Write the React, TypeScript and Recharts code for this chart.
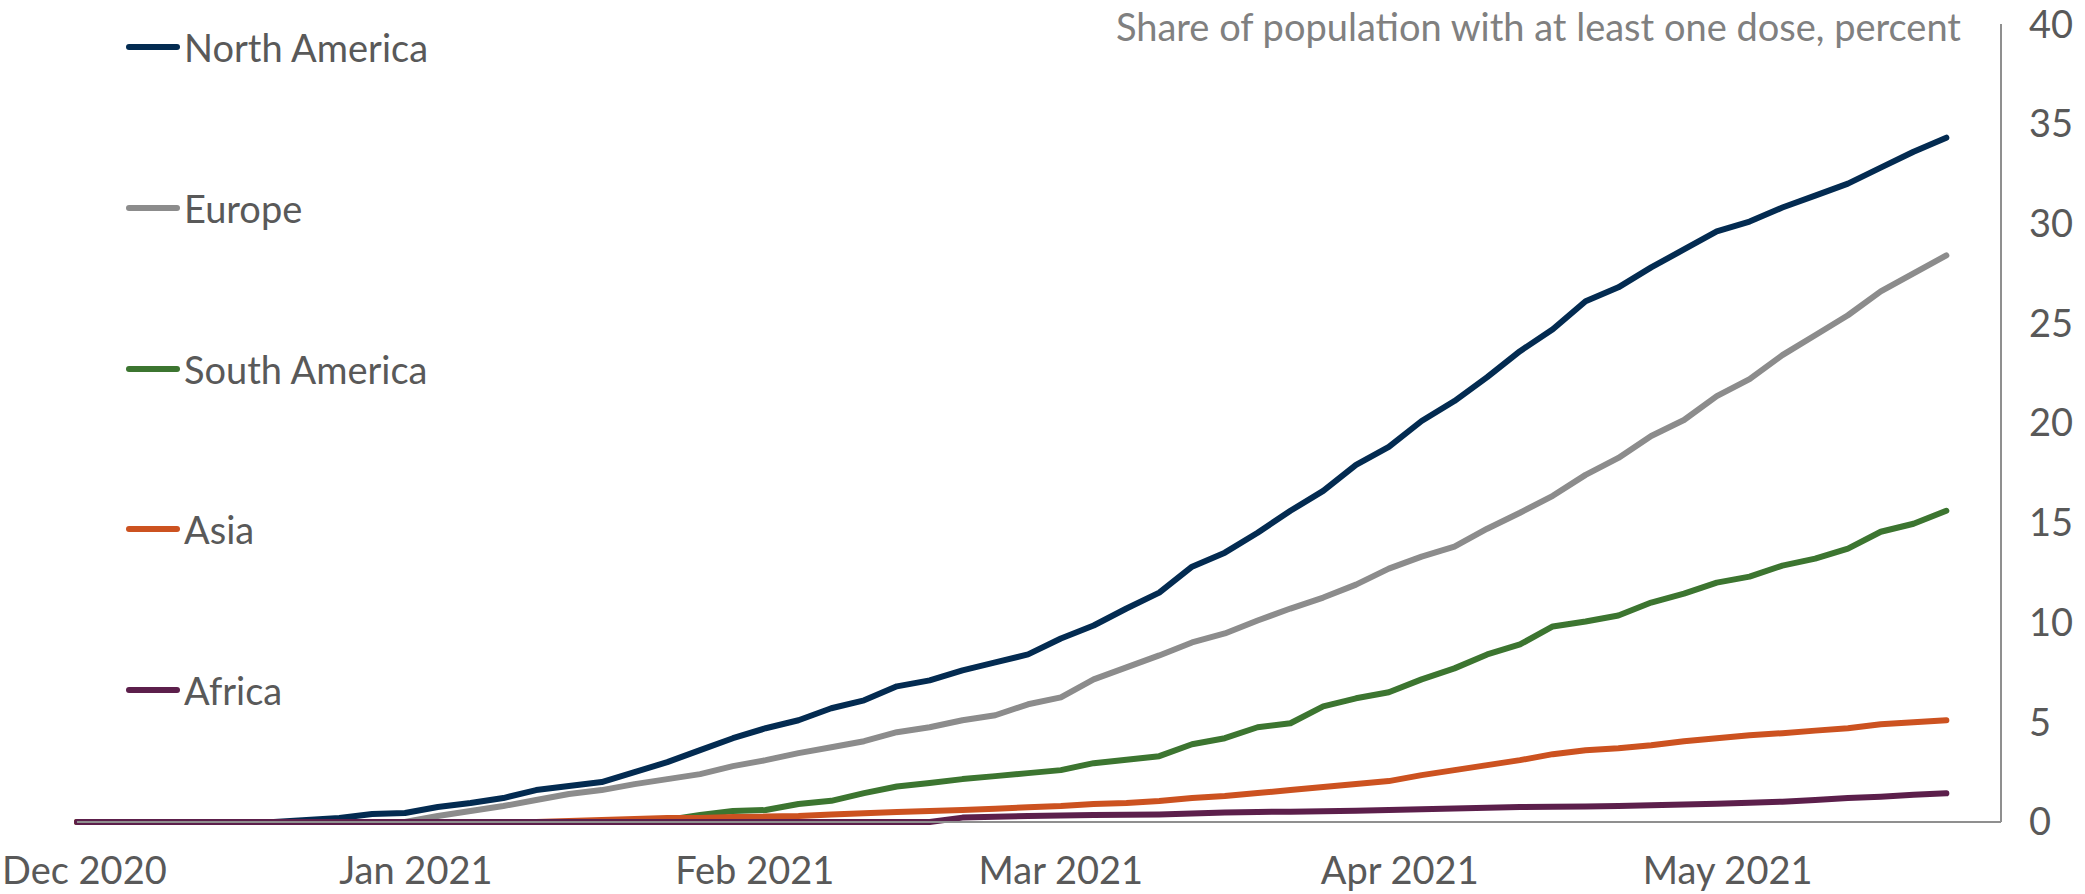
import { LineChart, Line, XAxis, YAxis, Legend } from "recharts";

// days since 1 Dec 2020, sampled every 3 days
const days = [
  0, 3, 6, 9, 12, 15, 18, 21, 24, 27, 30, 33, 36, 39, 42, 45, 48, 51, 54, 57,
  60, 63, 66, 69, 72, 75, 78, 81, 84, 87, 90, 93, 96, 99, 102, 105, 108, 111,
  114, 117, 120, 123, 126, 129, 132, 135, 138, 141, 144, 147, 150, 153, 156,
  159, 162, 165, 168, 171,
];

const monthTicks = [0, 31, 62, 90, 121, 151];
const monthLabels = ["Dec 2020", "Jan 2021", "Feb 2021", "Mar 2021", "Apr 2021", "May 2021"];
const yTicks = [0, 5, 10, 15, 20, 25, 30, 35, 40];

const northAmerica = [
  0, 0, 0, 0, 0, 0, 0, 0.1, 0.2, 0.4, 0.45, 0.75, 0.95, 1.2, 1.6, 1.8, 2.0, 2.5,
  3.0, 3.6, 4.2, 4.7, 5.1, 5.7, 6.1, 6.8, 7.1, 7.6, 8.0, 8.4, 9.2, 9.85, 10.7,
  11.5, 12.8, 13.5, 14.5, 15.6, 16.6, 17.9, 18.8, 20.1, 21.1, 22.3, 23.6, 24.7,
  26.1, 26.8, 27.8, 28.7, 29.6, 30.1, 30.8, 31.4, 32.0, 32.8, 33.6, 34.3,
];
const europe = [
  0, 0, 0, 0, 0, 0, 0, 0, 0, 0, 0, 0.3, 0.55, 0.8, 1.1, 1.4, 1.6, 1.9, 2.15, 2.4,
  2.8, 3.1, 3.45, 3.75, 4.05, 4.5, 4.75, 5.1, 5.35, 5.9, 6.25, 7.15, 7.75, 8.35,
  9.0, 9.45, 10.1, 10.7, 11.25, 11.9, 12.7, 13.3, 13.8, 14.7, 15.5, 16.35, 17.4,
  18.25, 19.35, 20.15, 21.35, 22.2, 23.4, 24.4, 25.4, 26.6, 27.5, 28.4,
];
const southAmerica = [
  0, 0, 0, 0, 0, 0, 0, 0, 0, 0, 0, 0, 0, 0, 0, 0, 0, 0, 0.1, 0.35, 0.55, 0.6,
  0.9, 1.06, 1.45, 1.78, 1.95, 2.15, 2.3, 2.45, 2.6, 2.95, 3.12, 3.3, 3.9, 4.2,
  4.75, 4.95, 5.8, 6.2, 6.5, 7.15, 7.7, 8.4, 8.9, 9.8, 10.05, 10.35, 11.0, 11.45,
  12.0, 12.3, 12.85, 13.2, 13.7, 14.55, 14.95, 15.6,
];
const asia = [
  0, 0, 0, 0, 0, 0, 0, 0, 0, 0, 0, 0, 0, 0, 0, 0.05, 0.1, 0.15, 0.2, 0.2, 0.25,
  0.27, 0.3, 0.37, 0.44, 0.5, 0.55, 0.6, 0.67, 0.74, 0.8, 0.9, 0.95, 1.05, 1.2,
  1.3, 1.45, 1.6, 1.75, 1.9, 2.05, 2.35, 2.6, 2.85, 3.1, 3.4, 3.6, 3.7, 3.85,
  4.05, 4.2, 4.35, 4.45, 4.58, 4.7, 4.9, 5.0, 5.1,
];
const africa = [
  0, 0, 0, 0, 0, 0, 0, 0, 0, 0, 0, 0, 0, 0, 0, 0, 0, 0, 0, 0, 0, 0, 0, 0, 0, 0,
  0, 0.22, 0.26, 0.3, 0.32, 0.35, 0.36, 0.38, 0.43, 0.47, 0.5, 0.52, 0.54, 0.57,
  0.6, 0.64, 0.68, 0.72, 0.75, 0.76, 0.78, 0.8, 0.84, 0.88, 0.92, 0.96, 1.02,
  1.1, 1.2, 1.27, 1.36, 1.44,
];

const series = [
  { key: "northAmerica", name: "North America", color: "#032b51" },
  { key: "europe", name: "Europe", color: "#8c8c8c" },
  { key: "southAmerica", name: "South America", color: "#3c7530" },
  { key: "asia", name: "Asia", color: "#cc5220" },
  { key: "africa", name: "Africa", color: "#5c1f4b" },
];

const data = days.map((day, i) => ({
  day,
  northAmerica: northAmerica[i],
  europe: europe[i],
  southAmerica: southAmerica[i],
  asia: asia[i],
  africa: africa[i],
}));

const FONT = 'Lato, "Liberation Sans", sans-serif';
const FS = 38;
const TEXT = "#595959";
const AXIS = "#8f8f8f";

// month label under each tick; the first one is kept inside the left edge
function MonthTick(props: any) {
  const { x, y, payload, index } = props;
  const label = monthLabels[monthTicks.indexOf(payload.value)] ?? "";
  const first = index === 0;
  return (
    <text
      x={first ? 2 : x}
      y={y}
      dy="0.71em"
      textAnchor={first ? "start" : "middle"}
      fill={TEXT}
      fontSize={FS}
      fontFamily={FONT}
    >
      {label}
    </text>
  );
}

function renderLegend() {
  return (
    <div style={{ position: "relative", fontFamily: FONT }}>
      {series.map((s, i) => (
        <div
          key={s.key}
          style={{
            position: "absolute",
            left: 0,
            top: i * 160.75,
            height: FS,
            display: "flex",
            alignItems: "center",
            whiteSpace: "nowrap",
          }}
        >
          <span
            style={{
              display: "inline-block",
              width: 54,
              height: 6,
              borderRadius: 3,
              background: s.color,
              marginRight: 4,
            }}
          />
          <span style={{ fontSize: FS, lineHeight: `${FS}px`, color: TEXT }}>{s.name}</span>
        </div>
      ))}
    </div>
  );
}

export default function App() {
  return (
    <div style={{ position: "absolute", left: 0, top: 0, width: 2085, height: 894, background: "#fff" }}>
      <LineChart width={2085} height={894} data={data} margin={{ top: 24, right: 0, left: 77, bottom: 0 }}>
        <XAxis
          dataKey="day"
          type="number"
          domain={[0, 176]}
          ticks={monthTicks}
          height={72}
          tickLine={false}
          tickSize={0}
          tickMargin={35}
          axisLine={{ stroke: AXIS, strokeWidth: 2 }}
          tick={<MonthTick />}
          interval={0}
        />
        <YAxis
          orientation="right"
          domain={[0, 40]}
          ticks={yTicks}
          width={84}
          tickLine={false}
          tickSize={0}
          tickMargin={28}
          axisLine={{ stroke: AXIS, strokeWidth: 2 }}
          tick={{ fontSize: FS, fill: TEXT, fontFamily: FONT, textAnchor: "start" }}
          interval={0}
        />
        <Legend
          layout="vertical"
          align="center"
          verticalAlign="middle"
          content={renderLegend}
          wrapperStyle={{ left: 126, top: 28, width: 400, height: 0 }}
        />
        {series.map((s) => (
          <Line
            key={s.key}
            type="linear"
            dataKey={s.key}
            name={s.name}
            stroke={s.color}
            strokeWidth={6}
            strokeLinecap="round"
            strokeLinejoin="round"
            dot={false}
            activeDot={false}
            isAnimationActive={false}
          />
        ))}
      </LineChart>
      <div
        style={{
          position: "absolute",
          right: 124,
          top: 7,
          fontFamily: FONT,
          fontSize: FS,
          lineHeight: `${FS}px`,
          color: "#808080",
          whiteSpace: "nowrap",
        }}
      >
        Share of population with at least one dose, percent
      </div>
    </div>
  );
}
